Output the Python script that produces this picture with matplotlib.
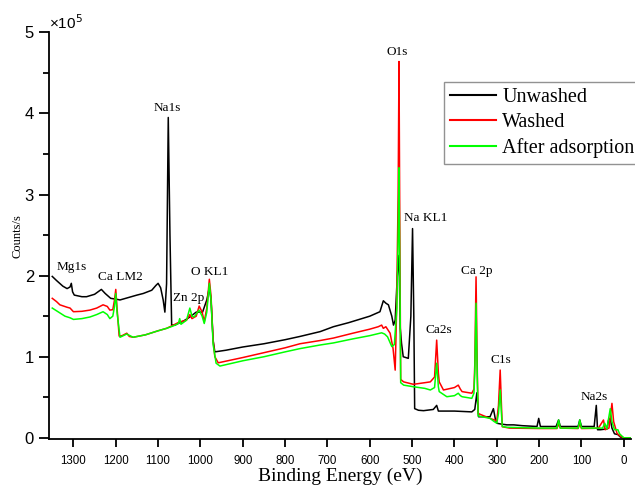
import matplotlib
matplotlib.use("Agg")
import matplotlib.pyplot as plt
from matplotlib.ticker import MultipleLocator

# Intensities in units of 1e5 counts/s, binding energies in eV
E_unwashed = [1350, 1340, 1325, 1315, 1308, 1305, 1302, 1298, 1280, 1269, 1250, 1234, 1225, 1212, 1200, 1190,
              1170, 1150, 1135, 1115, 1105, 1100, 1094, 1088, 1084, 1080, 1076, 1072, 1068, 1060, 1049,
              1040, 1025, 1010, 995, 985, 979, 975, 970, 966, 940, 900, 850, 800, 765, 717, 686, 650, 600,
              576, 568, 562, 556, 548, 544, 540, 535, 531, 528, 525, 521, 509, 503, 499, 496, 494, 485,
              473, 450, 442, 438, 400, 359, 352, 347, 343, 316, 308, 303, 300, 290, 276, 260, 240, 205,
              201, 197, 160, 154, 150, 108, 104, 100, 70, 65, 62, 55, 40, 36, 32, 28, 22, 14, 8, 0, -15]
I_unwashed = [1.99, 1.94, 1.87, 1.84, 1.86, 1.905, 1.80, 1.76, 1.74, 1.74, 1.77, 1.83, 1.78, 1.72, 1.71, 1.70,
              1.73, 1.76, 1.78, 1.82, 1.88, 1.905, 1.85, 1.70, 1.55, 1.90, 3.95, 2.50, 1.39, 1.39, 1.42,
              1.44, 1.49, 1.55, 1.55, 1.70, 1.85, 1.70, 1.20, 1.06, 1.08, 1.12, 1.16, 1.21, 1.25, 1.31,
              1.37, 1.42, 1.50, 1.555, 1.69, 1.66, 1.64, 1.50, 1.39, 1.45, 2.00, 2.25, 1.35, 1.165, 1.00,
              0.98, 1.50, 2.58, 1.50, 0.36, 0.34, 0.335, 0.35, 0.40, 0.33, 0.33, 0.32, 0.35, 0.556, 0.26,
              0.26, 0.36, 0.22, 0.18, 0.17, 0.16, 0.16, 0.15, 0.14, 0.24, 0.14, 0.14, 0.22, 0.14, 0.14,
              0.22, 0.14, 0.14, 0.40, 0.10, 0.10, 0.11, 0.22, 0.24, 0.12, 0.05, 0.04, 0.01, 0.0, 0.0]

E_washed = [1350, 1340, 1332, 1315, 1308, 1300, 1280, 1261, 1245, 1230, 1220, 1214, 1207, 1203, 1200,
            1197, 1192, 1185, 1174, 1168, 1159, 1130, 1100, 1080, 1064, 1049, 1040, 1033, 1025, 1020,
            1010, 1003, 996, 991, 985, 979, 975, 970, 966, 958, 900, 850, 800, 765, 717, 686, 640, 600,
            580, 572, 568, 562, 552, 545, 540, 537, 533, 531, 529, 527, 520, 497, 470, 457, 447, 442,
            438, 436, 426, 400, 391, 386, 382, 359, 354, 352, 349, 346, 344, 316, 300, 296, 292, 289,
            287, 270, 200, 158, 154, 150, 108, 104, 100, 71, 60, 48, 44, 35, 28, 24, 16, 8, 0, -15]
I_washed = [1.72, 1.68, 1.64, 1.61, 1.60, 1.555, 1.56, 1.575, 1.60, 1.64, 1.62, 1.575, 1.58, 1.70, 1.83,
            1.60, 1.255, 1.26, 1.29, 1.25, 1.24, 1.27, 1.32, 1.35, 1.39, 1.43, 1.44, 1.45, 1.52, 1.47,
            1.50, 1.625, 1.55, 1.43, 1.60, 1.955, 1.75, 1.20, 1.00, 0.925, 0.99, 1.05, 1.11, 1.16, 1.20,
            1.23, 1.29, 1.34, 1.37, 1.39, 1.35, 1.37, 1.29, 1.10, 0.835, 1.50, 3.00, 4.64, 2.50, 0.72,
            0.69, 0.66, 0.68, 0.69, 0.75, 1.205, 0.80, 0.69, 0.59, 0.62, 0.65, 0.60, 0.57, 0.55, 0.60,
            0.90, 1.985, 0.80, 0.30, 0.24, 0.21, 0.40, 0.836, 0.40, 0.137, 0.12, 0.115, 0.115, 0.17,
            0.12, 0.115, 0.17, 0.115, 0.117, 0.12, 0.22, 0.10, 0.12, 0.425, 0.20, 0.055, 0.02, 0.0, 0.0]

E_after = [1350, 1335, 1320, 1308, 1300, 1280, 1261, 1245, 1230, 1220, 1214, 1207, 1203, 1200, 1197,
           1190, 1174, 1159, 1130, 1100, 1080, 1064, 1052, 1049, 1046, 1033, 1025, 1020, 1015, 1003,
           996, 991, 985, 979, 975, 970, 963, 954, 900, 850, 800, 765, 717, 686, 640, 600, 572, 565,
           558, 548, 542, 536, 533, 531, 529, 527, 520, 497, 470, 457, 447, 442, 438, 436, 418, 400,
           391, 386, 382, 359, 354, 352, 349, 346, 344, 316, 306, 300, 296, 292, 289, 287, 276, 200,
           158, 154, 150, 108, 104, 100, 71, 60, 50, 45, 40, 32, 28, 22, 14, 10, 0, -15]
I_after = [1.60, 1.55, 1.50, 1.48, 1.46, 1.47, 1.49, 1.52, 1.555, 1.52, 1.47, 1.50, 1.62, 1.78, 1.55,
           1.24, 1.28, 1.24, 1.27, 1.32, 1.35, 1.38, 1.41, 1.47, 1.40, 1.45, 1.60, 1.50, 1.49, 1.575,
           1.50, 1.41, 1.55, 1.905, 1.70, 1.15, 0.92, 0.885, 0.95, 1.00, 1.06, 1.10, 1.145, 1.17, 1.22,
           1.26, 1.295, 1.28, 1.245, 1.125, 1.15, 1.60, 2.50, 3.33, 2.00, 0.68, 0.65, 0.63, 0.61, 0.59,
           0.62, 0.92, 0.63, 0.57, 0.507, 0.52, 0.55, 0.52, 0.507, 0.487, 0.55, 0.80, 1.66, 0.70, 0.27,
           0.24, 0.20, 0.18, 0.30, 0.59, 0.30, 0.14, 0.13, 0.12, 0.12, 0.22, 0.12, 0.12, 0.22, 0.12,
           0.12, 0.12, 0.12, 0.18, 0.11, 0.36, 0.20, 0.10, 0.10, 0.05, 0.0, 0.0]

series_names = ["Unwashed", "Washed", "After adsorption"]
series_colors = ["black", "#ff0000", "#00ff00"]

peak_labels = ["Mg1s", "Ca LM2", "Na1s", "Zn 2p", "O KL1", "O1s", "Na KL1", "Ca 2p", "Ca2s", "C1s", "Na2s"]
peak_label_E = [1303, 1189, 1079, 1027, 977, 536, 469, 348, 437, 291, 71]
peak_label_I = [2.11, 1.98, 4.07, 1.72, 2.05, 4.76, 2.71, 2.06, 1.33, 0.965, 0.50]

x_ticks = list(range(1300, -1, -100))
y_ticks = [0, 1, 2, 3, 4, 5]

serif = ["Liberation Serif", "DejaVu Serif"]
sans = ["Liberation Sans", "DejaVu Sans"]

fig = plt.figure(figsize=(6.35, 4.92), dpi=100)
ax = fig.add_axes([49.3 / 635, 1 - 439.3 / 492, (631 - 49.3) / 635, (439.3 - 32.3) / 492])

for E, I, name, col in zip([E_unwashed, E_washed, E_after], [I_unwashed, I_washed, I_after],
                           series_names, series_colors):
    ax.plot(E, I, color=col, lw=1.1, label=name)

ax.set_xlim(1357, -17)
ax.set_ylim(-0.018, 5.0)
ax.set_xticks(x_ticks)
ax.set_yticks(y_ticks)
ax.yaxis.set_minor_locator(MultipleLocator(0.5))

for s in ["top", "right"]:
    ax.spines[s].set_visible(False)
for s in ["left", "bottom"]:
    ax.spines[s].set_linewidth(1.3)

ax.tick_params(axis="x", which="major", direction="out", length=6, width=1.3, pad=5, labelsize=8.3)
ax.tick_params(axis="y", which="major", direction="out", length=7, width=1.3, pad=4, labelsize=12)
ax.tick_params(axis="y", which="minor", direction="out", length=4, width=1.3)
for lab in ax.get_xticklabels() + ax.get_yticklabels():
    lab.set_fontfamily(sans)

ax.set_xlabel("Binding Energy (eV)", family=serif, fontsize=14, labelpad=1)
ax.set_ylabel("Counts/s", family=serif, fontsize=9, labelpad=1)

ax.text(0.0, 1.0, "×10$^5$", transform=ax.transAxes, family=sans, fontsize=11,
        ha="left", va="bottom")

for t, e, i in zip(peak_labels, peak_label_E, peak_label_I):
    ax.text(e, i, t, family=serif, fontsize=9.5, ha="center", va="center")

leg = ax.legend(loc="upper left", bbox_to_anchor=(444 / 635, 1 - 82 / 492),
                bbox_transform=fig.transFigure, prop={"family": serif, "size": 14.5},
                frameon=True, fancybox=False, handlelength=2.3, handletextpad=0.3,
                labelspacing=0.3, borderpad=0.3, borderaxespad=0.0)
leg.get_frame().set_edgecolor("#777777")
leg.get_frame().set_linewidth(1.0)
for ln in leg.get_lines():
    ln.set_linewidth(1.5)

fig.savefig("out.png", dpi=100)
